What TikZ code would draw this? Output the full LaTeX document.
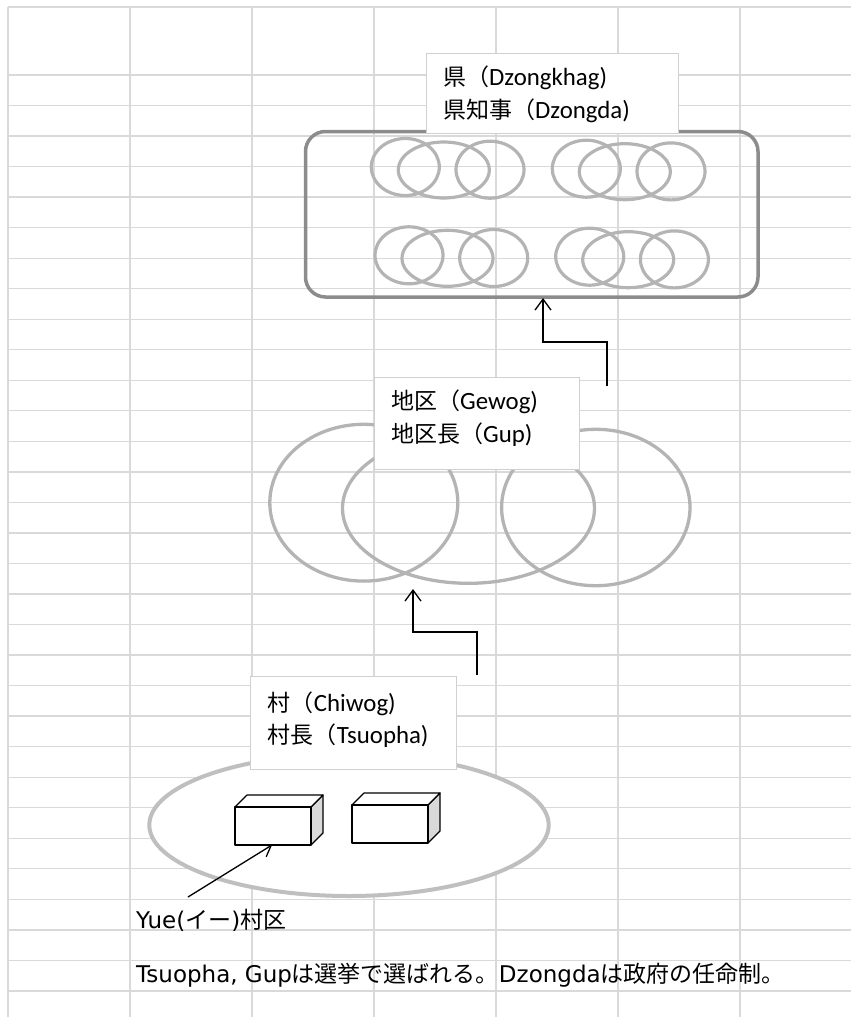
\documentclass[tikz,border=0pt]{standalone}
\usepackage{fontspec}
\newfontfamily\jpfont{Noto Sans CJK JP}
\newfontfamily\latfont{DejaVu Sans}
\newfontfamily\calfont[Scale=1.08]{Carlito}
\newcommand\jl[2]{{\jpfont #1}{\calfont #2}}
\usetikzlibrary{arrows.meta}
\definecolor{gridc}{RGB}{217,217,217}
\definecolor{rimc}{RGB}{140,140,140}
\definecolor{ringc}{RGB}{180,180,180}
\definecolor{vringc}{RGB}{191,191,191}
\definecolor{labc}{RGB}{208,208,208}
\definecolor{sidec}{RGB}{217,217,217}
\begin{document}
\begin{tikzpicture}[x=1pt,y=-1pt,
  gridline/.style={draw=gridc,line width=1.3pt},
  ring/.style={draw=ringc,line width=3.2pt},
  labelbox/.style={draw=labc,fill=white,line width=1pt,anchor=north west,inner sep=0pt},
  labeltext/.style={anchor=west,inner sep=0pt,align=left,font=\fontsize{23}{32.5}\selectfont},
  link/.style={draw=black,line width=1.3pt,-{Straight Barb[length=11pt,width=16pt]}},
  cube/.style={draw=black,line width=1.2pt,line join=round},
  plain/.style={anchor=west,inner sep=0pt,font=\fontsize{23}{27}\selectfont}
  ]
\useasboundingbox (0,0) rectangle (851,1017);
% spreadsheet grid
\foreach \x in {8,130,252,374,496,618,740} \draw[gridline] (\x,7) -- (\x,1017);
\draw[gridline] (8,7) -- (851,7);
\foreach \k in {0,...,30} \draw[gridline] (8,{75+30.53*\k}) -- (851,{75+30.53*\k});

% Dzongkhag
\node[draw=rimc,line width=3.5pt,rounded corners=20pt,minimum width=452.5pt,minimum height=165.5pt,anchor=north west,inner sep=0pt] (dzong) at (303.75,129.75) {};
\foreach \ax/\ay in {405.3/167, 586.3/168.7, 409/255.3, 589.7/256.7} {
  \draw[ring] (\ax,\ay) ellipse [x radius=34, y radius=28.5];
  \draw[ring] ({\ax+38.5},{\ay+3}) ellipse [x radius=45.5, y radius=28];
  \draw[ring] ({\ax+84.7},{\ay+2.7}) ellipse [x radius=34, y radius=28.5];
}
\node[labelbox,minimum width=252pt,minimum height=80pt] (dzlab) at (426,53) {};
\node[labeltext] (dztext) at (443,94.3) {\jl{県（}{Dzongkhag)}\\\jl{県知事（}{Dzongda)}};

% Gewog
\draw[ring,line width=3.3pt] (363.8,502.7) ellipse [x radius=94, y radius=78.4];
\draw[ring,line width=3.3pt] (468.5,508.3) ellipse [x radius=126, y radius=75];
\draw[ring,line width=3.3pt] (595.8,507.5) ellipse [x radius=94.2, y radius=78.2];
\node[labelbox,minimum width=205pt,minimum height=92pt] (gwlab) at (374,377) {};
\node[labeltext] (gwtext) at (391,418.2) {\jl{地区（}{Gewog)}\\\jl{地区長（}{Gup)}};

% arrows between levels
\coordinate (a1s) at (607,386);
\coordinate (a1e) at (543,298);
\draw[link] (a1s) -- ++(0,-44) -| (a1e);
\coordinate (a2s) at (477,675);
\coordinate (a2e) at (413,589);
\draw[link] (a2s) -- ++(0,-43) -| (a2e);

% Chiwog
\draw[draw=vringc,fill=white,line width=4pt] (349,825) ellipse [x radius=199.7, y radius=71];
\node[labelbox,minimum width=206pt,minimum height=93pt] (cwlab) at (250,676) {};
\node[labeltext] (cwtext) at (267.7,719.5) {\jl{村（}{Chiwog)}\\\jl{村長（}{Tsuopha)}};

% houses
\foreach \bx/\by in {235/807, 352/805} {
  \filldraw[cube,fill=sidec] ({\bx+76},\by) -- ++(12,-12) -- ++(0,38) -- ++(-12,12) -- cycle;
  \filldraw[cube,fill=white] (\bx,\by) -- ++(12,-12) -- ++(76,0) -- ++(-12,12) -- cycle;
  \filldraw[cube,fill=white] (\bx,\by) rectangle ++(76,38);
}
\coordinate (yuetip) at (272,845);
\coordinate (yuefrom) at (188,897);
\draw[link,-{Straight Barb[length=10pt,width=14pt]}] (yuefrom) -- (yuetip);
\node[plain] (yue) at (136,920) {\latfont Yue(\jpfont イー\latfont )\jpfont 村区};
\node[plain] (note) at (136,975) {\latfont Tsuopha, Gup\jpfont は選挙で選ばれる。\latfont Dzongda\jpfont は政府の任命制。};
\end{tikzpicture}
\end{document}
